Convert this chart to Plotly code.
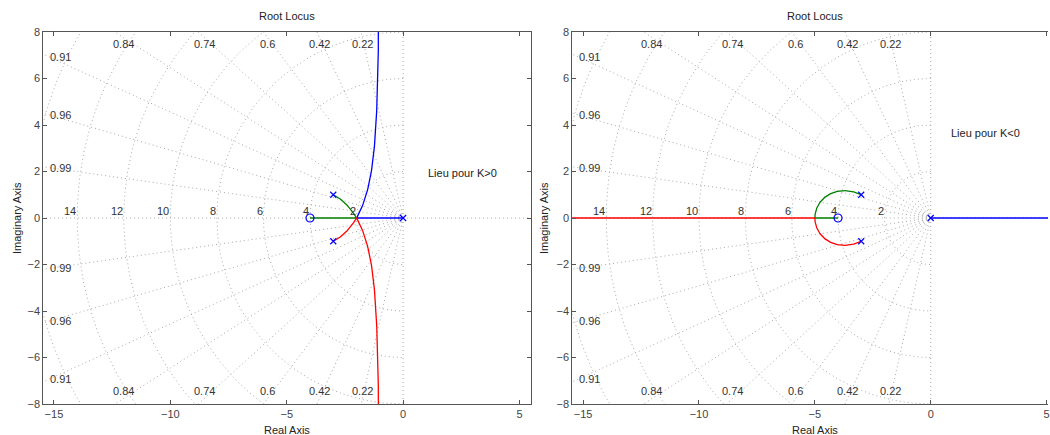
import numpy as np
import plotly.graph_objects as go

# ---------------- data ----------------
poles = [0 + 0j, -3 + 1j, -3 - 1j]
zeros = [-4 + 0j]
zeta_vals = [0.22, 0.42, 0.6, 0.74, 0.84, 0.91, 0.96, 0.99]
zeta_top = [0.22, 0.42, 0.6, 0.74, 0.84]
zeta_side = [0.91, 0.96, 0.99]
wn_circles = [2, 4, 6, 8, 10, 12, 14, 16]
wn_labels = [2, 4, 6, 8, 10, 12, 14]
x_ticks = [-15, -10, -5, 0, 5]
y_ticks = [-8, -6, -4, -2, 0, 2, 4, 6, 8]
titles = ["Root Locus", "Root Locus"]
notes = ["Lieu pour K>0", "Lieu pour K<0"]
branch_colors = ["#0000ff", "#008000", "#ff0000"]

W, H = 1050, 435
ML, MR, MT, MB = 0, 0, 32, 31
FONT = "Liberation Sans, Arial, Helvetica, sans-serif"
GRID = "#a8a8a8"
LAB = "#333333"

den = np.real(np.poly(poles))
num = np.real(np.poly(zeros))


def char_roots(K):
    return np.roots(np.polyadd(den, K * num))


t = np.linspace(0, 1, 400)

# K > 0 : sort by imaginary part
Ka = 2 * (1 - (1 - t) ** 3)
Kb = 2 + (t * 21.6) ** 3
left_br = [[], [], []]  # blue, green, red
for K in Ka:
    r = sorted(char_roots(K), key=lambda z: z.imag)
    left_br[0].append(r[1]); left_br[1].append(r[2]); left_br[2].append(r[0])
for K in Kb:
    r = sorted(char_roots(K), key=lambda z: z.imag)
    left_br[0].append(r[2]); left_br[1].append(r[1]); left_br[2].append(r[0])

# K < 0
Kc = -25 * (1 - (1 - t) ** 2)
Kd = -25 - (t * 100) ** 2
right_br = [[], [], []]
for K in Kc:
    r = sorted(char_roots(K), key=lambda z: z.imag)
    right_br[0].append(r[1]); right_br[1].append(r[2]); right_br[2].append(r[0])
for K in Kd:
    r = sorted(char_roots(K), key=lambda z: z.real)
    right_br[0].append(r[2]); right_br[1].append(r[1]); right_br[2].append(r[0])

# grid geometry
R = 60.0
gx, gy = [], []
for z in zeta_vals:
    s = np.sqrt(1 - z * z)
    gx += [0, -z * R, None, 0, -z * R, None]
    gy += [0, s * R, None, 0, -s * R, None]
gx += [0, -R, None, 0, R, None, 0, 0, None, 0, 0, None]
gy += [0, 0, None, 0, 0, None, 0, R, None, 0, -R, None]
th = np.linspace(np.pi / 2, 3 * np.pi / 2, 241)
for w in wn_circles:
    gx += list(w * np.cos(th)) + [None]
    gy += list(w * np.sin(th)) + [None]

fig = go.Figure()
domains = [[43.3 / W, 531.7 / W], [573.3 / W, 1.0]]
xranges = [[-15.46, 5.48], [-15.47, 5.06]]
branches = [left_br, right_br]
note_pos = [(0.97, 1.95), (0.78, 3.66)]

annotations = []
for i in range(2):
    xa = "x" if i == 0 else "x2"
    ya = "y" if i == 0 else "y2"
    fig.add_trace(go.Scatter(x=gx, y=gy, mode="lines", xaxis=xa, yaxis=ya,
                             line=dict(color=GRID, width=1, dash="1px,3px"),
                             hoverinfo="skip", showlegend=False))
    for b in range(3):
        pts = np.array(branches[i][b])
        fig.add_trace(go.Scatter(x=pts.real, y=pts.imag, mode="lines", xaxis=xa, yaxis=ya,
                                 line=dict(color=branch_colors[b], width=1.3),
                                 hoverinfo="skip", showlegend=False))
    fig.add_trace(go.Scatter(x=[p.real for p in poles], y=[p.imag for p in poles],
                             mode="markers", xaxis=xa, yaxis=ya,
                             marker=dict(symbol="x-thin-open", size=6, color="#0000ff",
                                         line=dict(color="#0000ff", width=1.2)),
                             hoverinfo="skip", showlegend=False))
    fig.add_trace(go.Scatter(x=[z.real for z in zeros], y=[z.imag for z in zeros],
                             mode="markers", xaxis=xa, yaxis=ya,
                             marker=dict(symbol="circle-open", size=8, color="#0000ff",
                                         line=dict(color="#0000ff", width=1.2)),
                             hoverinfo="skip", showlegend=False))

    # grid labels
    for z in zeta_top:
        s = np.sqrt(1 - z * z)
        xx = -7.77 * z / s
        for yy in (7.5, -7.45):
            annotations.append(dict(x=xx, y=yy, xref=xa, yref=ya, text=str(z), showarrow=False,
                                    xanchor="center", yanchor="middle",
                                    font=dict(size=11, color=LAB, family=FONT)))
    for z in zeta_side:
        s = np.sqrt(1 - z * z)
        yy = 15.2 * s / z
        for sg in (1, -1):
            annotations.append(dict(x=-15.25, y=sg * yy, xref=xa, yref=ya, text=str(z), showarrow=False,
                                    xanchor="left", yanchor="middle",
                                    font=dict(size=11, color=LAB, family=FONT)))
    for w in wn_labels:
        annotations.append(dict(x=-w + 0.05, y=0.29, xref=xa, yref=ya, text=str(w), showarrow=False,
                                xanchor="right", yanchor="middle",
                                font=dict(size=11, color=LAB, family=FONT)))
    annotations.append(dict(x=note_pos[i][0], y=note_pos[i][1], xref=xa, yref=ya, text=notes[i],
                            showarrow=False, xanchor="left", yanchor="middle",
                            font=dict(size=11, color="#222", family=FONT)))

    # titles / axis labels (pixel positions)
    cx = 287.5 if i == 0 else 816.7
    annotations.append(dict(x=cx / W, y=(404 - 16) / 372, xref="paper", yref="paper", text=titles[i],
                            showarrow=False, xanchor="center", yanchor="middle",
                            font=dict(size=11, color="#222", family=FONT)))
    annotations.append(dict(x=cx / W, y=(404 - 430) / 372, xref="paper", yref="paper", text="Real Axis",
                            showarrow=False, xanchor="center", yanchor="middle",
                            font=dict(size=11, color="#222", family=FONT)))
    ix = 17 if i == 0 else 545
    annotations.append(dict(x=ix / W, y=0.5, xref="paper", yref="paper", text="Imaginary Axis",
                            showarrow=False, xanchor="center", yanchor="middle", textangle=-90,
                            font=dict(size=11, color="#222", family=FONT)))


def tick_txt(v):
    return str(v) if v >= 0 else "\u2212" + str(-v)


def xaxis(i):
    return dict(domain=domains[i], range=xranges[i], showline=True, linecolor="#555", linewidth=1,
                mirror="ticks", ticks="inside", ticklen=4, tickcolor="#555", showgrid=False,
                zeroline=False, tickvals=x_ticks, ticktext=[tick_txt(v) for v in x_ticks],
                tickfont=dict(size=11, color="#444", family=FONT), anchor="y" if i == 0 else "y2",
                ticklabeloverflow="allow", fixedrange=True)


def yaxis(i):
    return dict(domain=[0, 1], range=[-8, 8], showline=True, linecolor="#555", linewidth=1,
                mirror="ticks" if i == 0 else False, ticks="inside", ticklen=4, tickcolor="#555",
                showgrid=False, zeroline=False, tickvals=y_ticks, ticktext=[tick_txt(v) for v in y_ticks],
                tickfont=dict(size=11, color="#444", family=FONT), anchor="x" if i == 0 else "x2",
                fixedrange=True)


fig.update_layout(
    width=W, height=H, margin=dict(l=ML, r=MR, t=MT, b=MB, pad=0),
    paper_bgcolor="white", plot_bgcolor="white",
    xaxis=xaxis(0), yaxis=yaxis(0), xaxis2=xaxis(1), yaxis2=yaxis(1),
    annotations=annotations, showlegend=False,
    font=dict(family=FONT, size=11),
)
fig.write_html("out.html")
